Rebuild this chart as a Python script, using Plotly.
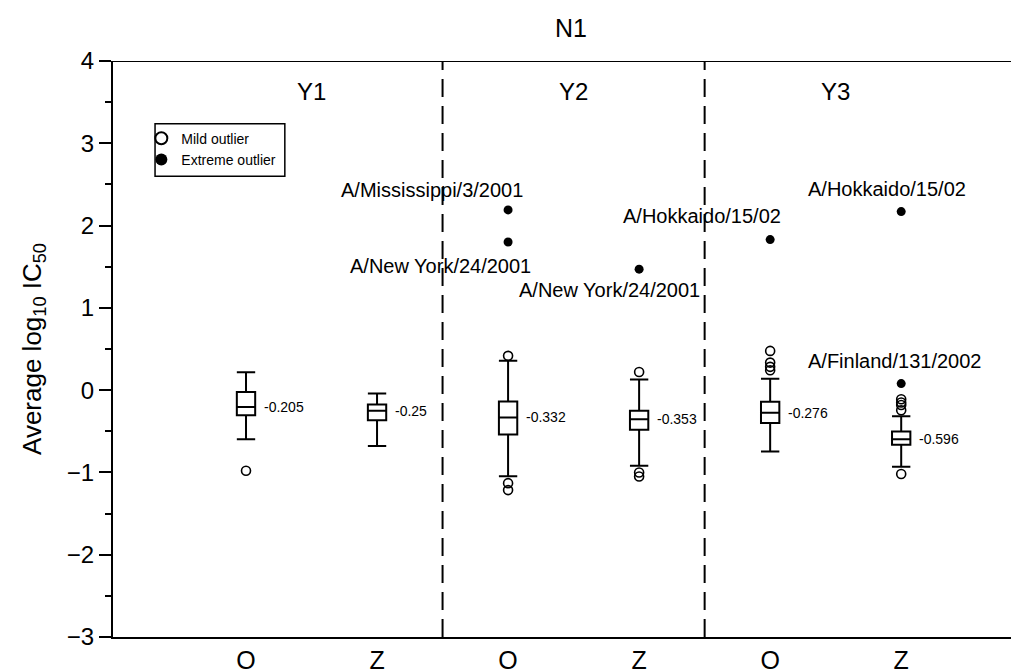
import plotly.graph_objects as go

# ---------------- data ----------------
groups = ["Y1", "Y1", "Y2", "Y2", "Y3", "Y3"]
drugs = ["O", "Z", "O", "Z", "O", "Z"]
xpos = [1, 2, 3, 4, 5, 6]
q1 = [-0.306, -0.367, -0.538, -0.48, -0.40, -0.665]
median = [-0.205, -0.25, -0.332, -0.353, -0.276, -0.596]
q3 = [-0.023, -0.173, -0.138, -0.25, -0.142, -0.503]
lowerfence = [-0.598, -0.68, -1.045, -0.92, -0.746, -0.932]
upperfence = [0.216, -0.04, 0.356, 0.13, 0.137, -0.317]
median_labels = ["-0.205", "-0.25", "-0.332", "-0.353", "-0.276", "-0.596"]

mild_x = [1, 3, 3, 3, 4, 4, 4, 5, 5, 5, 5, 6, 6, 6, 6, 6]
mild_y = [-0.98, 0.417, -1.13, -1.215, 0.22, -1.0, -1.05,
          0.477, 0.335, 0.283, 0.242, -0.11, -0.15, -0.18, -0.244, -1.02]

extreme_x = [3, 3, 4, 5, 6, 6]
extreme_y = [2.19, 1.8, 1.47, 1.83, 2.17, 0.08]
extreme_labels = ["A/Mississippi/3/2001", "A/New York/24/2001", "A/New York/24/2001",
                  "A/Hokkaido/15/02", "A/Hokkaido/15/02", "A/Finland/131/2002"]

group_names = ["Y1", "Y2", "Y3"]
group_centers = [1.5, 3.5, 5.5]
dividers = [2.5, 4.5]

# ---------------- style ----------------
FONT = "Liberation Sans, Arial, Helvetica, sans-serif"
label_style = [  # xanchor, xshift, yshift  (yanchor middle)
    ("right", 17, 20),
    ("right", 25, -24),
    ("center", -30, -21),
    ("right", 13, 24),
    ("left", -95, 23),
    ("left", -95, 23),
]

fig = go.Figure()

for i in range(len(xpos)):
    fig.add_trace(go.Box(
        x=[xpos[i]], q1=[q1[i]], median=[median[i]], q3=[q3[i]],
        lowerfence=[lowerfence[i]], upperfence=[upperfence[i]],
        width=0.14, whiskerwidth=1,
        fillcolor="white", line=dict(color="black", width=2),
        boxpoints=False, showlegend=False, hoverinfo="skip",
    ))

fig.add_trace(go.Scatter(
    x=mild_x, y=mild_y, mode="markers", name="Mild outlier",
    marker=dict(symbol="circle-open", size=9, color="black", line=dict(width=1.6, color="black")),
))
fig.add_trace(go.Scatter(
    x=extreme_x, y=extreme_y, mode="markers", name="Extreme outlier",
    marker=dict(symbol="circle", size=9, color="black"),
))

annotations = []
for i in range(len(xpos)):
    annotations.append(dict(
        x=xpos[i], y=median[i], xref="x", yref="y", text=median_labels[i],
        showarrow=False, xanchor="left", yanchor="middle", xshift=16,
        font=dict(family=FONT, size=14, color="black"),
    ))
for i in range(len(extreme_x)):
    xa, xs, ys = label_style[i]
    annotations.append(dict(
        x=extreme_x[i], y=extreme_y[i], xref="x", yref="y", text=extreme_labels[i],
        showarrow=False, xanchor=xa, yanchor="middle", xshift=xs, yshift=ys,
        font=dict(family=FONT, size=20, color="black"),
    ))
for g, c in zip(group_names, group_centers):
    annotations.append(dict(
        x=c, y=3.63, xref="x", yref="y", text=g, showarrow=False,
        font=dict(family=FONT, size=24, color="black"),
    ))

shapes = []
for d in dividers:
    shapes.append(dict(type="line", xref="x", yref="paper", x0=d, x1=d, y0=0, y1=1,
                       line=dict(color="black", width=2, dash="18px,9px")))
shapes.append(dict(type="line", xref="paper", yref="y", x0=0, x1=1, y0=4, y1=4,
                   line=dict(color="black", width=2)))
# legend frame
shapes.append(dict(type="rect", xref="paper", yref="paper",
                   x0=0.046, x1=0.188, y0=0.80, y1=0.891,
                   line=dict(color="black", width=1.5), fillcolor="rgba(0,0,0,0)"))

fig.update_layout(
    width=1019, height=672,
    margin=dict(l=105, r=0, t=53, b=43),
    paper_bgcolor="white", plot_bgcolor="white",
    font=dict(family=FONT, color="black"),
    title=dict(text="N1", x=0.5525, xanchor="center", y=0.97, yanchor="middle",
               font=dict(family=FONT, size=25, color="black")),
    showlegend=True,
    legend=dict(x=0.031, y=0.893, xanchor="left", yanchor="top",
                borderwidth=0, bgcolor="rgba(0,0,0,0)",
                font=dict(family=FONT, size=14, color="black"),
                itemsizing="constant", tracegroupgap=0),
    annotations=annotations,
    shapes=shapes,
)

fig.update_xaxes(
    range=[-0.015, 6.96], tickmode="array", tickvals=xpos, ticktext=drugs,
    showline=True, linecolor="black", linewidth=2, ticks="",
    showgrid=False, zeroline=False, tickfont=dict(family=FONT, size=25),
)
fig.update_yaxes(
    range=[-3, 4], tickmode="linear", tick0=-3, dtick=1,
    showline=True, linecolor="black", linewidth=2,
    ticks="outside", ticklen=12, tickwidth=2, tickcolor="black",
    minor=dict(dtick=0.5, ticks="outside", ticklen=6, tickwidth=2, tickcolor="black"),
    showgrid=False, zeroline=False, tickfont=dict(family=FONT, size=24),
    title=dict(text="Average log<sub>10</sub> IC<sub>50</sub>", font=dict(family=FONT, size=26), standoff=18),
)

fig.write_html("out.html")
